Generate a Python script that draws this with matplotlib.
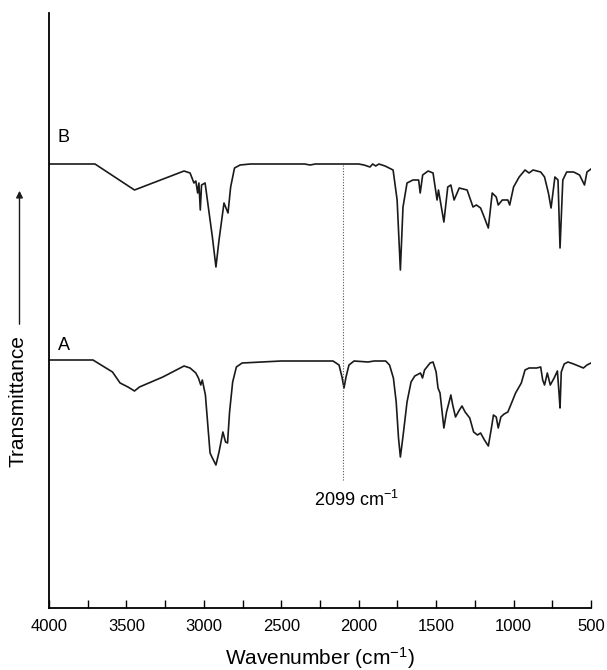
import numpy as np
import matplotlib
matplotlib.use("Agg")
import matplotlib.pyplot as plt

plt.rcParams['font.family'] = ['Liberation Sans', 'DejaVu Sans']
plt.rcParams['mathtext.fontset'] = 'custom'
plt.rcParams['mathtext.rm'] = 'Liberation Sans'
plt.rcParams['mathtext.it'] = 'Liberation Sans'

# spectrum B (arbitrary transmittance units, baseline 150)
wn_b = [4000, 3703, 3448, 3128, 3089, 3064, 3052, 3040, 3032, 3023, 3015, 2992,
        2966, 2945, 2922, 2902, 2870, 2844, 2827, 2802, 2766, 2700, 2350, 2314,
        2280, 2000, 1966, 1927, 1910, 1890, 1870, 1830, 1778, 1752, 1731, 1714,
        1688, 1650, 1613, 1603, 1587, 1552, 1520, 1494, 1485, 1450, 1425, 1405,
        1384, 1351, 1300, 1262, 1240, 1213, 1190, 1163, 1138, 1112, 1099, 1073,
        1037, 1025, 1000, 964, 926, 900, 874, 825, 800, 775, 758, 733, 713, 700,
        682, 657, 612, 574, 542, 526, 500]
t_b = [150, 150, 124, 143, 141, 131, 133, 121, 131, 104, 129, 131,
       101, 77, 47, 74, 111, 101, 127, 146, 149, 150, 150, 149,
       150, 150, 149, 147, 150, 148, 150, 148, 144, 114, 44, 107,
       131, 134, 134, 121, 139, 143, 141, 114, 124, 92, 127, 129,
       114, 126, 124, 107, 109, 106, 97, 86, 121, 117, 109, 114,
       114, 109, 127, 137, 144, 141, 144, 142, 137, 121, 106, 137, 134, 66,
       134, 142, 142, 139, 129, 142, 145]

# spectrum A
wn_a = [4000, 3716, 3590, 3541, 3490, 3448, 3416, 3265, 3128, 3089, 3052, 3035,
        3020, 3010, 2990, 2973, 2960, 2945, 2922, 2902, 2877, 2860, 2847, 2834,
        2814, 2790, 2753, 2500, 2166, 2127, 2108, 2095, 2082, 2063, 2030, 1940,
        1900, 1826, 1801, 1776, 1758, 1743, 1731, 1713, 1688, 1662, 1638, 1601,
        1588, 1575, 1539, 1520, 1500, 1488, 1475, 1450, 1433, 1418, 1405, 1393,
        1375, 1350, 1333, 1313, 1283, 1258, 1233, 1213, 1188, 1163, 1143, 1130,
        1112, 1099, 1082, 1061, 1037, 1013, 987, 950, 926, 900, 851, 825, 812,
        800, 782, 763, 738, 717, 707, 700, 692, 673, 649, 612, 549, 526, 500]
t_a = [150, 150, 138, 127, 123, 119, 123, 133, 144, 142, 137, 132,
       125, 130, 115, 82, 57, 52, 45, 58, 78, 68, 67, 98,
       128, 143, 147, 149, 149, 145, 133, 122, 133, 145, 149, 148,
       149, 149, 145, 132, 108, 72, 53, 75, 108, 128, 134, 137,
       132, 140, 147, 148, 138, 122, 117, 82, 98, 107, 115, 105,
       93, 100, 104, 98, 92, 78, 75, 77, 70, 64, 82, 95,
       93, 82, 93, 96, 98, 107, 117, 127, 140, 142, 142, 143, 130,
       125, 137, 125, 132, 139, 118, 102, 138, 146, 148, 146, 142, 145, 147]

offset_a = 98
offset_b = 294
peak = 2099

fig = plt.figure(figsize=(6.07, 6.7), dpi=100)
ax = fig.add_axes([49/607, 1-608/670, 542/607, 595/670])

ax.plot(wn_b, np.array(t_b) + offset_b, color='#1a1a1a', lw=1.2)
ax.plot(wn_a, np.array(t_a) + offset_a, color='#1a1a1a', lw=1.2)
ax.plot([peak, peak], [128, offset_b + 150], color='#555555', lw=0.8, ls=(0, (1, 1.5)))

ax.text(3945, offset_b + 176, 'B', fontsize=13, ha='left', va='center')
ax.text(3945, offset_a + 165, 'A', fontsize=13, ha='left', va='center')
ax.text(2017, 108, '2099 cm$^{-1}$', fontsize=13, ha='center', va='center')

ax.set_xlim(4000, 500)
ax.set_ylim(0, 595)
ax.set_xticks(np.arange(4000, 499, -500))
ax.set_xticks(np.arange(3750, 500, -500), minor=True)
ax.tick_params(axis='x', which='both', direction='in', length=6, width=1,
               labelsize=12, pad=8)
ax.set_yticks([])
for s in ['top', 'right']:
    ax.spines[s].set_visible(False)
for s in ['left', 'bottom']:
    ax.spines[s].set_linewidth(1.3)
ax.set_xlabel('Wavenumber (cm$^{-1}$)', fontsize=15, labelpad=8)

fig.text(18/607, 1-401/670, 'Transmittance', fontsize=15, rotation=90,
         ha='center', va='center')
ax.annotate('', xy=(19.5/607, 1-188/670), xytext=(19.5/607, 1-327/670),
            xycoords='figure fraction', textcoords='figure fraction',
            arrowprops=dict(arrowstyle='-|>', color='#1a1a1a', lw=1.0,
                            mutation_scale=10))

plt.savefig('out.png', dpi=100)
